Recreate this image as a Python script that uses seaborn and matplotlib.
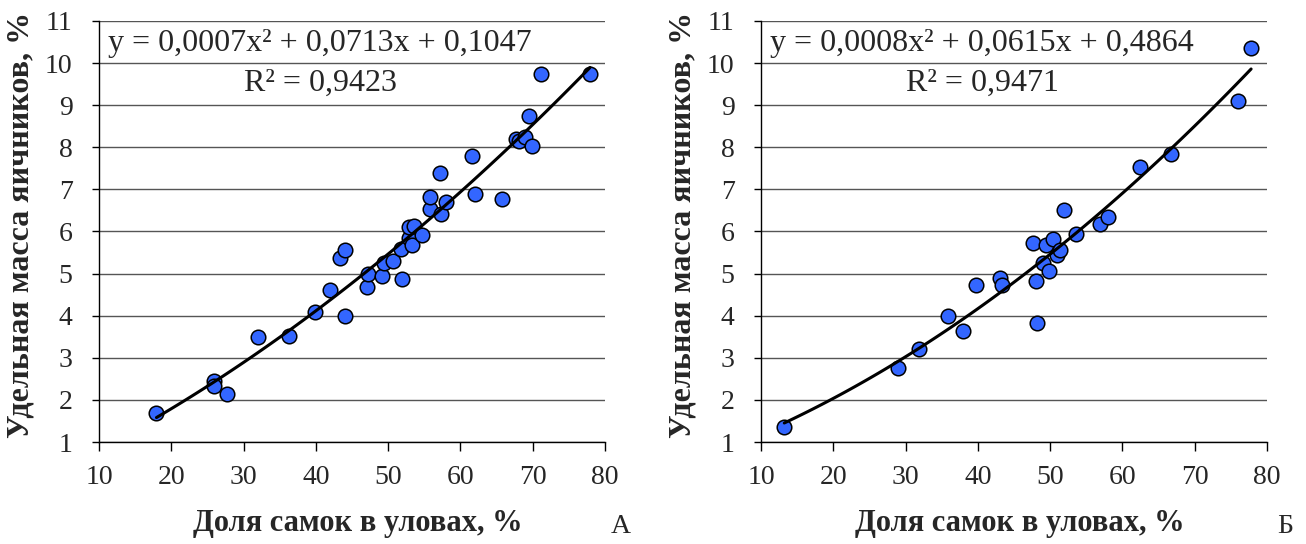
import numpy as np
import pandas as pd
import matplotlib
matplotlib.use("Agg")
import matplotlib.pyplot as plt
import seaborn as sns

# Panel A data
a_x = [17.95, 25.94, 25.94, 27.67, 31.96, 36.31, 39.91, 41.94, 43.96, 43.32,
       43.96, 47.02, 47.27, 49.14, 49.49, 50.62, 51.96, 51.76, 52.84, 53.24,
       52.84, 53.58, 54.72, 55.80, 55.80, 57.19, 57.29, 57.93, 61.58, 62.02,
       65.78, 67.65, 68.05, 68.88, 69.87, 69.53, 71.10, 77.92]
a_y = [1.70, 2.46, 2.32, 2.14, 3.49, 3.52, 4.09, 4.60, 4.00, 5.38,
       5.56, 4.69, 4.98, 4.94, 5.25, 5.30, 4.87, 5.58, 5.84, 5.68,
       6.10, 6.13, 5.92, 6.53, 6.83, 7.40, 6.42, 6.71, 7.80, 6.89,
       6.77, 8.19, 8.14, 8.25, 8.02, 8.75, 9.73, 9.74]

# Panel B data
b_x = [13.22, 28.95, 31.92, 35.93, 37.91, 39.79, 43.00, 43.30, 47.60, 48.10,
       48.20, 48.99, 49.44, 49.78, 50.33, 50.97, 51.42, 51.96, 53.59, 56.86,
       58.05, 62.45, 66.66, 75.91, 77.79]
b_y = [1.36, 2.76, 3.22, 4.00, 3.63, 4.73, 4.89, 4.73, 5.72, 4.83,
       3.82, 5.25, 5.67, 5.07, 5.83, 5.43, 5.55, 6.51, 5.94, 6.17,
       6.34, 7.54, 7.84, 9.11, 10.37]

eq_a = "y = 0,0007x\u00b2 + 0,0713x + 0,1047"
r2_a = "R\u00b2 = 0,9423"
eq_b = "y = 0,0008x\u00b2 + 0,0615x + 0,4864"
r2_b = "R\u00b2 = 0,9471"
x_ticks = [10, 20, 30, 40, 50, 60, 70, 80]
y_ticks = [1, 2, 3, 4, 5, 6, 7, 8, 9, 10, 11]
xlabel = "Доля самок в уловах, %"
ylabel = "Удельная масса яичников, %"
panel_labels = ["А", "Б"]

sns.set_theme(style="white")
plt.rcParams['font.family'] = ['Liberation Serif', 'DejaVu Serif']

fig = plt.figure(figsize=(13.06, 5.44), dpi=100)
ax1 = fig.add_axes([0.0758, 0.1875, 0.3875, 0.7739])
ax2 = fig.add_axes([0.5827, 0.1875, 0.3875, 0.7739])

panels = [
    (ax1, a_x, a_y, eq_a, r2_a, panel_labels[0], 1.03),
    (ax2, b_x, b_y, eq_b, r2_b, panel_labels[1], 1.035),
]

for ax, xs, ys, eq, r2, pl, plx in panels:
    df = pd.DataFrame({"x": xs, "y": ys})
    ax.set_axisbelow(True)
    ax.yaxis.grid(True, color="#555555", linewidth=1.0)
    ax.xaxis.grid(False)
    sns.regplot(data=df, x="x", y="y", order=2, ci=None, ax=ax,
                scatter_kws=dict(s=110, color="#3366FF", edgecolors="black",
                                 linewidths=1.1, alpha=1, zorder=3),
                line_kws=dict(color="black", linewidth=2.2, zorder=4))
    ax.set_xlim(10, 80)
    ax.set_ylim(1, 11)
    ax.set_xticks(x_ticks)
    ax.set_yticks(y_ticks)
    ax.tick_params(axis="both", which="both", direction="out",
                   width=1, color="black", labelsize=20,
                   bottom=True, left=True)
    ax.tick_params(axis="x", length=6.5, pad=10)
    ax.tick_params(axis="y", length=5, pad=14)
    for s in ["top", "right"]:
        ax.spines[s].set_visible(False)
    for s in ["left", "bottom"]:
        ax.spines[s].set_visible(True)
        ax.spines[s].set_color("black")
        ax.spines[s].set_linewidth(1.0)
    ax.set_xlabel(xlabel, fontsize=22, fontweight="bold", va="top")
    ax.xaxis.set_label_coords(0.512, -0.159)
    ax.set_ylabel(ylabel, fontsize=23, fontweight="bold")
    ax.yaxis.set_label_coords(-0.126, 0.515)
    ax.text(0.018, 0.947, eq, transform=ax.transAxes, fontsize=23,
            ha="left", va="center")
    ax.text(0.437, 0.852, r2, transform=ax.transAxes, fontsize=23,
            ha="center", va="center")
    ax.text(plx, -0.2, pl, transform=ax.transAxes, fontsize=20,
            ha="center", va="center")

fig.savefig("out.png", dpi=100)
